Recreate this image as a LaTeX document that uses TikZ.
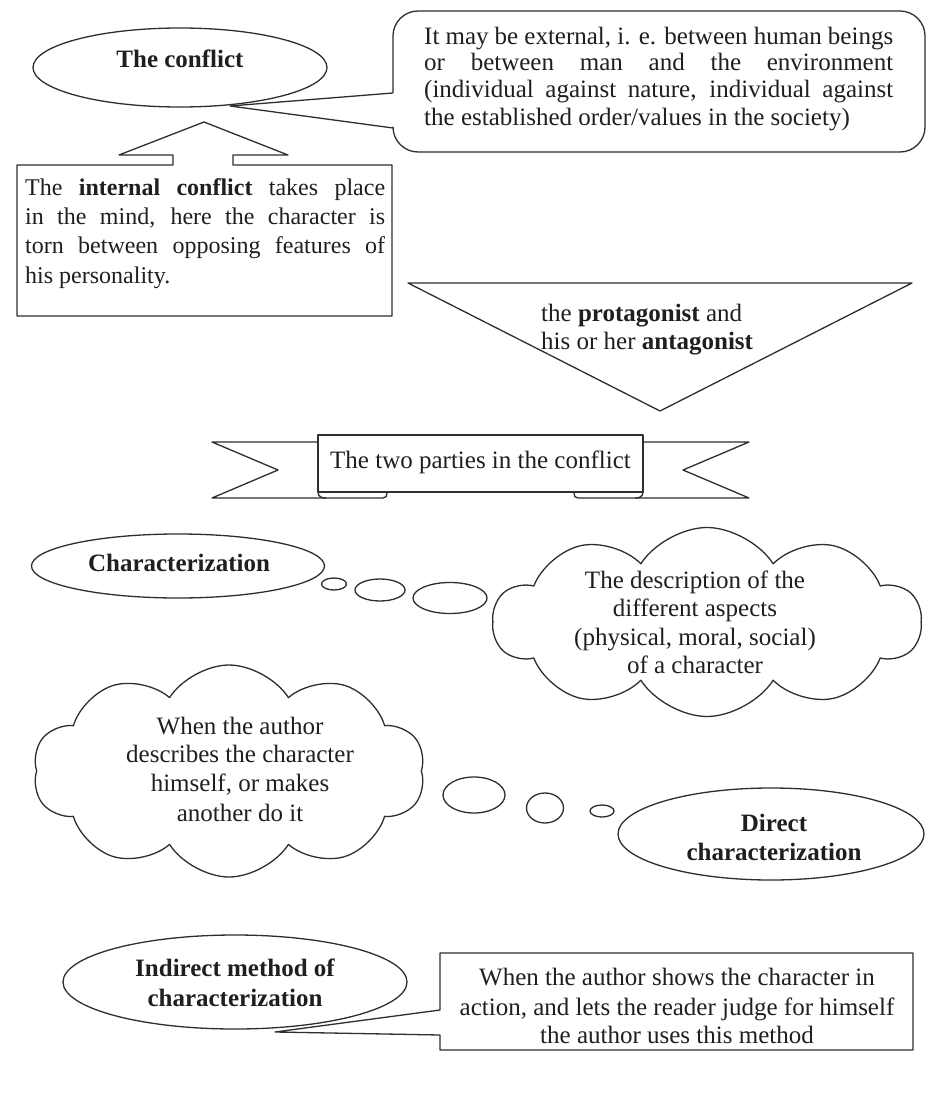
\documentclass[tikz,border=0pt]{standalone}
\usepackage{fontspec}
\setmainfont{Liberation Serif}
\usetikzlibrary{shapes.geometric,shapes.symbols}
\begin{document}
\begin{tikzpicture}[x=1pt,y=-1pt,
  ln/.style={draw=black!82,line width=1.3pt,line join=round},
  tl/.style={text=black!88,inner sep=0pt,anchor=base,font=\fontsize{25}{28}\selectfont},
  tlw/.style={tl,anchor=base west},
  tb/.style={tl,font=\fontsize{25}{28}\selectfont\bfseries},
  oval/.style={ln,ellipse,inner sep=0pt},
  puff/.style={ln,cloud,cloud puffs=10,cloud puff arc=115,cloud ignores aspect,inner sep=0pt}
]
\useasboundingbox[fill=white] (0,0) rectangle (927,1115);

% ---- The conflict
\node[oval,minimum width=294pt,minimum height=79pt] (conflict) at (180,67.5) {};
\node[tb] (conflictT) at (180,68) {The conflict};

% ---- rounded callout (external conflict)
\coordinate (extA) at (393,93);
\coordinate (extB) at (393,128);
\coordinate (extTip) at (230,106);
\draw[ln,rounded corners=25pt] (extA) -- (393,11) -- (925,11) -- (925,152) -- (393,152) -- (extB);
\draw[ln] (extA) -- (extTip) -- (extB);
\node[tlw] (ext1) at (424,45) {\makebox[469pt][s]{It may be external, i. e. between human beings}};
\node[tlw] (ext2) at (424,71) {\makebox[469pt][s]{or between man and the environment}};
\node[tlw] (ext3) at (424,98) {\makebox[469pt][s]{(individual against nature, individual against}};
\node[tlw] (ext4) at (424,126) {the established order/values in the society)};

% ---- up-arrow callout (internal conflict)
\draw[ln] (17,165) -- (173,165) -- (173,155) -- (119,155) -- (204,122) -- (288,155)
  -- (233,155) -- (233,165) -- (392,165) -- (392,316) -- (17,316) -- cycle;
\begin{scope}[every node/.style={tlw,font=\fontsize{24}{28}\selectfont}]
\node (int1) at (25,196) {\makebox[360pt][s]{The \textbf{internal conflict} takes place}};
\node (int2) at (25,225) {\makebox[360pt][s]{in the mind, here the character is}};
\node (int3) at (25,254) {\makebox[360pt][s]{torn between opposing features of}};
\node (int4) at (25,283) {his personality.};
\end{scope}

% ---- down triangle (protagonist / antagonist)
\draw[ln] (408,283) -- (912,283) -- (660,411) -- cycle;
\node[tlw] (prot1) at (541,321) {the \textbf{protagonist} and};
\node[tlw] (prot2) at (541,349) {his or her \textbf{antagonist}};

% ---- ribbon banner
\draw[ln] (318,442) -- (212,442) -- (278,470) -- (212,498) -- (383,498)
  .. controls (386,498) and (387,496) .. (387,493);
\draw[ln] (643,442) -- (749,442) -- (683,470) -- (749,498) -- (578,498)
  .. controls (575,498) and (574,496) .. (574,493);
\draw[ln] (318,492) .. controls (318,497) and (322,498) .. (326,498);
\draw[ln] (643,492) .. controls (643,497) and (639,498) .. (635,498);
\draw[ln,fill=white] (318,435) rectangle (643,492);
\node[tl] (parties) at (480.5,468) {The two parties in the conflict};

% ---- Characterization + thought bubbles
\node[oval,minimum width=293pt,minimum height=64pt] (charz) at (178,566) {};
\node[tb] (charzT) at (179,571) {Characterization};
\node[oval,minimum width=25pt,minimum height=12pt] (b1) at (334,584) {};
\node[oval,minimum width=50pt,minimum height=22pt] (b2) at (380,590) {};
\node[oval,minimum width=74pt,minimum height=31pt] (b3) at (450,598) {};

% ---- right cloud
\node[puff,minimum width=428pt,minimum height=189pt] (descr) at (707,622) {};
\node[tl] (descr1) at (695,588) {The description of the};
\node[tl] (descr2) at (695,616) {different aspects};
\node[tl] (descr3) at (695,645) {(physical, moral, social)};
\node[tl] (descr4) at (695,673) {of a character};

% ---- left cloud
\node[puff,minimum width=392pt,minimum height=212pt] (direct) at (229,771) {};
\node[tl] (dir1) at (240,734) {When the author};
\node[tl] (dir2) at (240,762) {describes the character};
\node[tl] (dir3) at (240,791) {himself, or makes};
\node[tl] (dir4) at (240,821) {another do it};
\node[oval,minimum width=62pt,minimum height=36pt] (c1) at (474,795) {};
\node[oval,minimum width=37pt,minimum height=30pt] (c2) at (545,808) {};
\node[oval,minimum width=24pt,minimum height=12pt] (c3) at (602,811) {};

% ---- Direct characterization
\node[oval,minimum width=306pt,minimum height=92pt] (dchar) at (771,834) {};
\node[tb] (dchar1) at (774,831) {Direct};
\node[tb] (dchar2) at (774,860) {characterization};

% ---- Indirect method
\node[oval,minimum width=344pt,minimum height=94pt] (ichar) at (235,982) {};
\node[tb] (ichar1) at (235,976) {Indirect method of};
\node[tb] (ichar2) at (235,1006) {characterization};

% ---- bottom callout
\coordinate (indTip) at (275,1032);
\draw[ln] (440,1010) -- (440,953) -- (913,953) -- (913,1050) -- (440,1050) -- (440,1035) -- (indTip) -- cycle;
\node[tl] (ind1) at (677,985) {When the author shows the character in};
\node[tl] (ind2) at (677,1015) {action, and lets the reader judge for himself};
\node[tl] (ind3) at (677,1043) {the author uses this method};
\end{tikzpicture}
\end{document}
